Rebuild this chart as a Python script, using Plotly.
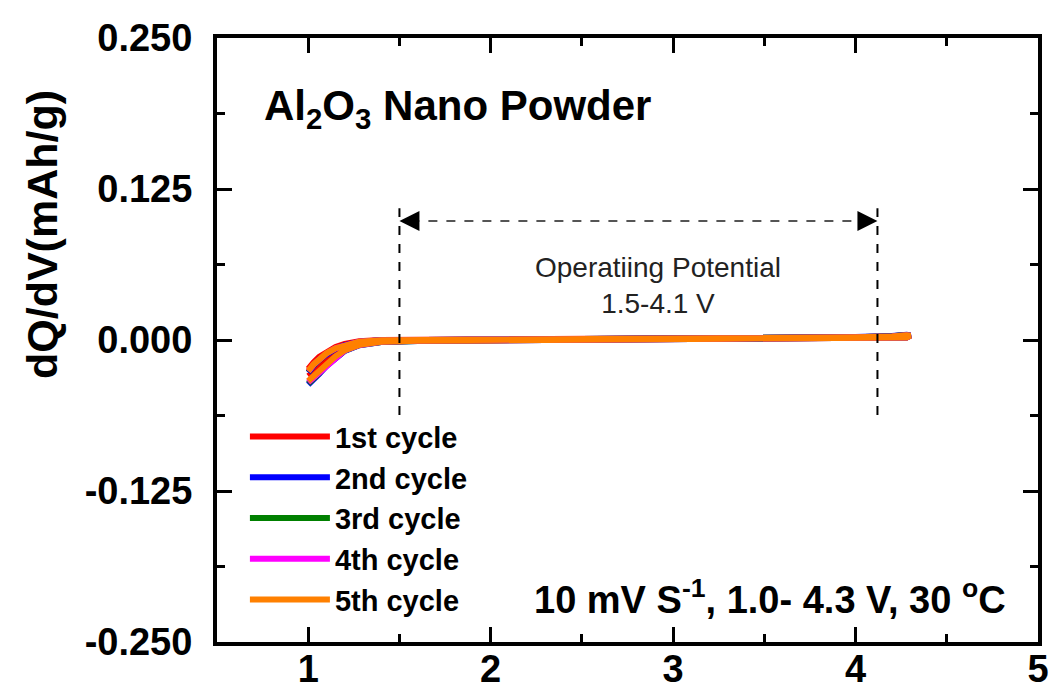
import plotly.graph_objects as go

# ---- data ----
voltage = [1.00, 1.03, 1.06, 1.10, 1.15, 1.20, 1.28, 1.40, 1.60, 2.00, 2.50, 3.00, 3.50, 4.00, 4.20, 4.28, 4.30,
           4.28, 4.20, 4.00, 3.50, 3.00, 2.50, 2.00, 1.60, 1.40, 1.28, 1.20, 1.15, 1.10, 1.06, 1.03, 1.00]

cycle1 = [-0.030, -0.027, -0.023, -0.0175, -0.0118, -0.0074, -0.0034, -0.0012, -0.0006, -0.0003, 0.0001, 0.0003, 0.0006, 0.0010, 0.0014, 0.0021, 0.0036,
          0.0041, 0.0031, 0.0023, 0.0018, 0.0015, 0.0012, 0.0009, 0.0005, 0.0000, -0.0011, -0.0032, -0.0058, -0.0098, -0.0140, -0.0185, -0.0240]
cycle2 = [-0.037, -0.033, -0.028, -0.0215, -0.0145, -0.0090, -0.0043, -0.0016, -0.0008, -0.0004, 0.0000, 0.0002, 0.0005, 0.0010, 0.0015, 0.0022, 0.0037,
          0.0043, 0.0033, 0.0025, 0.0019, 0.0015, 0.0012, 0.0008, 0.0004, -0.0003, -0.0017, -0.0043, -0.0072, -0.0115, -0.0160, -0.0210, -0.0270]
cycle3 = [-0.036, -0.032, -0.0275, -0.0210, -0.0142, -0.0088, -0.0042, -0.0016, -0.0008, -0.0004, 0.0000, 0.0002, 0.0005, 0.0009, 0.0014, 0.0021, 0.0036,
          0.0041, 0.0031, 0.0023, 0.0018, 0.0014, 0.0011, 0.0008, 0.0004, -0.0003, -0.0016, -0.0042, -0.0070, -0.0113, -0.0158, -0.0206, -0.0265]
cycle4 = [-0.035, -0.031, -0.0268, -0.0205, -0.0138, -0.0086, -0.0041, -0.0015, -0.0007, -0.0004, 0.0000, 0.0002, 0.0005, 0.0009, 0.0013, 0.0020, 0.0035,
          0.0040, 0.0030, 0.0022, 0.0017, 0.0014, 0.0011, 0.0008, 0.0004, -0.0002, -0.0015, -0.0041, -0.0069, -0.0111, -0.0156, -0.0203, -0.0260]
cycle5 = [-0.034, -0.030, -0.0260, -0.0200, -0.0135, -0.0085, -0.0040, -0.0015, -0.0007, -0.0004, 0.0000, 0.0002, 0.0005, 0.0009, 0.0013, 0.0020, 0.0035,
          0.0040, 0.0030, 0.0022, 0.0017, 0.0014, 0.0011, 0.0008, 0.0004, -0.0002, -0.0015, -0.0040, -0.0068, -0.0110, -0.0155, -0.0200, -0.0255]

series_names = ["1st cycle", "2nd cycle", "3rd cycle", "4th cycle", "5th cycle"]
series_values = [cycle1, cycle2, cycle3, cycle4, cycle5]
series_colors = ["#FF0000", "#0000FF", "#008000", "#FF00FF", "#FF8000"]

x_tickvals = [1, 2, 3, 4, 5]
x_ticktext = ["1", "2", "3", "4", "5"]
y_tickvals = [-0.25, -0.125, 0.0, 0.125, 0.25]
y_ticktext = ["-0.250", "-0.125", "0.000", "0.125", "0.250"]

window_low, window_high = 1.5, 4.12

FONT = "Arial, Liberation Sans, sans-serif"

fig = go.Figure()
for name, vals, col in zip(series_names, series_values, series_colors):
    fig.add_trace(go.Scatter(x=voltage, y=vals, mode="lines", name=name,
                             line=dict(color=col, width=6)))

axis_common = dict(
    showline=True, linewidth=4, linecolor="black", mirror="ticks",
    ticks="inside", ticklen=15, tickwidth=3, tickcolor="black",
    showgrid=False, zeroline=False, automargin=False,
    tickfont=dict(family=FONT, size=38, color="black", weight="bold"),
)

fig.update_layout(
    width=1056, height=695,
    margin=dict(l=217, r=18, t=38, b=53),
    paper_bgcolor="white", plot_bgcolor="white",
    xaxis=dict(range=[0.5, 5], tickmode="array", tickvals=x_tickvals, ticktext=x_ticktext,
               minor=dict(dtick=0.5, tick0=0.5, ticks="inside", ticklen=8, tickwidth=3, tickcolor="black"),
               ticklabelstandoff=-10,
               **axis_common),
    yaxis=dict(range=[-0.25, 0.25], tickmode="array", tickvals=y_tickvals, ticktext=y_ticktext,
               minor=dict(dtick=0.0625, tick0=0, ticks="inside", ticklen=8, tickwidth=3, tickcolor="black"),
               ticklabelstandoff=13,
               **axis_common),
    showlegend=True,
    legend=dict(x=0.034, y=0.382, xanchor="left", yanchor="top",
                bgcolor="rgba(0,0,0,0)", itemwidth=80, tracegroupgap=0,
                font=dict(family=FONT, size=29, color="black", weight="bold")),
)

# y-axis title (placed as in the reference, above the axis centre)
fig.add_annotation(x=-0.213, y=0.674, xref="paper", yref="paper", showarrow=False,
                   text="dQ/dV(mAh/g)", textangle=-90, xanchor="center", yanchor="middle",
                   font=dict(family=FONT, size=43, color="black", weight="bold"))

# dashed operating-window markers
for xv in [window_low, window_high]:
    fig.add_shape(type="line", x0=xv, x1=xv, y0=-0.062, y1=0.109, xref="x", yref="y",
                  line=dict(color="black", width=2, dash="dash"))
fig.add_shape(type="line", x0=window_low + 0.06, x1=window_high - 0.06, y0=0.0985, y1=0.0985,
              xref="x", yref="y", line=dict(color="#555555", width=2, dash="dash"))
fig.add_annotation(x=window_low, y=0.0985, ax=window_low + 0.1, ay=0.0985, axref="x", ayref="y",
                   xref="x", yref="y", text="", showarrow=True, arrowhead=2, arrowsize=1.6,
                   arrowwidth=2.5, arrowcolor="black", standoff=0)
fig.add_annotation(x=window_high, y=0.0985, ax=window_high - 0.1, ay=0.0985, axref="x", ayref="y",
                   xref="x", yref="y", text="", showarrow=True, arrowhead=2, arrowsize=1.6,
                   arrowwidth=2.5, arrowcolor="black", standoff=0)

fig.add_annotation(x=2.918, y=0.0455, xref="x", yref="y", showarrow=False,
                   text="Operatiing Potential<br>1.5-4.1 V", align="center",
                   font=dict(family=FONT, size=28, color="#222222"))

fig.add_annotation(x=0.747, y=0.192, xref="x", yref="y", showarrow=False, xanchor="left",
                   text="Al<sub>2</sub>O<sub>3</sub> Nano Powder",
                   font=dict(family=FONT, size=42, color="black", weight="bold"))

fig.add_annotation(x=4.837, y=-0.2128, xref="x", yref="y", showarrow=False, xanchor="right",
                   text="10 mV S<sup>-1</sup>, 1.0- 4.3 V, 30 <sup>o</sup>C",
                   font=dict(family=FONT, size=38, color="black", weight="bold"))

fig.write_html("out.html")
